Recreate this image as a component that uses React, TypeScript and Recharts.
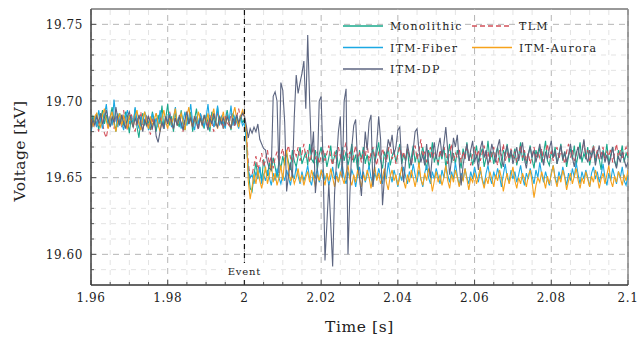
import React from 'react';
import { LineChart, Line, XAxis, YAxis, ReferenceLine, ReferenceArea, Legend } from 'recharts';

// sampling of the traces (s)
const T_START = 1.96;
const T_STEP = 0.0005;
const EVENT_T = 2;

// voltages in volts, one sample every 0.5 ms from 1.96 s
const monolithicV = [
  19684, 19690, 19686, 19692, 19681, 19688, 19694, 19685, 19691, 19683, 19689, 19696, 19687, 19680, 19692, 19686, 19690, 19684, 19693, 19688,
  19679, 19690, 19685, 19695, 19683, 19676, 19688, 19692, 19684, 19690, 19686, 19681, 19693, 19687, 19680, 19691, 19685, 19697, 19682, 19689,
  19698, 19684, 19690, 19680, 19692, 19687, 19683, 19694, 19686, 19681, 19690, 19685, 19693, 19680, 19688, 19695, 19684, 19690, 19686, 19682,
  19691, 19686, 19680, 19693, 19688, 19684, 19696, 19685, 19690, 19682, 19688, 19694, 19686, 19681, 19692, 19687, 19690, 19684, 19691, 19686,
  19688,
  19675, 19655, 19643, 19641, 19652, 19660, 19650, 19657, 19648, 19662, 19655, 19651, 19660, 19654, 19663, 19657, 19650, 19661, 19656, 19664,
  19658, 19666, 19660, 19655, 19668, 19661, 19657, 19664, 19670, 19659, 19663, 19667, 19658, 19672, 19662, 19660, 19668, 19655, 19665, 19670,
  19660, 19666, 19657, 19663, 19671, 19659, 19664, 19668, 19656, 19662, 19670, 19661, 19667, 19658, 19664, 19672, 19660, 19665, 19655, 19668,
  19662, 19670, 19659, 19665, 19657, 19663, 19669, 19660, 19666, 19673, 19661, 19656, 19667, 19662, 19670, 19658, 19664, 19668, 19660, 19666,
  19672, 19659, 19665, 19661, 19669, 19656, 19663, 19671, 19660, 19666, 19658, 19664, 19670, 19662, 19655, 19668, 19663, 19673, 19660, 19665,
  19658, 19667, 19662, 19670, 19657, 19664, 19672, 19660, 19666, 19659, 19668, 19663, 19656, 19669, 19662, 19673, 19661, 19666, 19658, 19664,
  19671, 19660, 19665, 19669, 19657, 19663, 19674, 19661, 19667, 19659, 19665, 19670, 19662, 19656, 19668, 19664, 19672, 19660, 19666, 19662,
  19669, 19658, 19664, 19673, 19661, 19667, 19659, 19665, 19671, 19662, 19656, 19668, 19663, 19670, 19660, 19666, 19674, 19661, 19658, 19667,
  19663, 19670, 19659, 19665, 19672, 19661, 19667, 19657, 19664, 19669, 19662, 19671, 19658, 19665, 19673, 19660, 19666, 19662, 19670, 19658,
  19665, 19671, 19660, 19667, 19662, 19655, 19668, 19663, 19672, 19659, 19665, 19670, 19661, 19657, 19668, 19664, 19671, 19660, 19666, 19663,
];

const tlmV = [
  19688, 19683, 19690, 19685, 19680, 19692, 19686, 19679, 19676, 19684, 19690, 19687, 19682, 19691, 19685, 19689, 19683, 19694, 19686, 19681,
  19688, 19692, 19684, 19680, 19689, 19686, 19693, 19682, 19687, 19691, 19684, 19678, 19688, 19685, 19692, 19683, 19689, 19686, 19681, 19690,
  19685, 19693, 19687, 19682, 19689, 19684, 19691, 19686, 19680, 19688, 19694, 19685, 19689, 19683, 19690, 19686, 19681, 19692, 19687, 19684,
  19689, 19683, 19691, 19686, 19680, 19688, 19693, 19685, 19689, 19682, 19690, 19686, 19684, 19692, 19687, 19683, 19690, 19695, 19688, 19692,
  19690,
  19680, 19660, 19650, 19652, 19658, 19664, 19655, 19660, 19666, 19657, 19662, 19668, 19659, 19664, 19656, 19663, 19667, 19660, 19665, 19669,
  19662, 19667, 19671, 19663, 19660, 19668, 19664, 19670, 19661, 19666, 19672, 19663, 19668, 19660, 19665, 19670, 19662, 19667, 19659, 19664,
  19669, 19661, 19666, 19671, 19663, 19658, 19667, 19662, 19670, 19664, 19660, 19668, 19673, 19663, 19667, 19660, 19665, 19671, 19662, 19666,
  19660, 19668, 19664, 19672, 19661, 19666, 19670, 19663, 19658, 19667, 19662, 19669, 19664, 19660, 19668, 19673, 19662, 19666, 19659, 19665,
  19670, 19663, 19667, 19661, 19669, 19664, 19658, 19666, 19671, 19662, 19667, 19675, 19663, 19668, 19660, 19665, 19670, 19662, 19667, 19664,
  19660, 19668, 19663, 19670, 19665, 19659, 19667, 19672, 19661, 19666, 19663, 19669, 19660, 19667, 19662, 19671, 19664, 19658, 19666, 19670,
  19663, 19668, 19661, 19666, 19671, 19662, 19667, 19660, 19665, 19670, 19663, 19658, 19668, 19664, 19672, 19661, 19666, 19662, 19669, 19663,
  19667, 19660, 19665, 19671, 19663, 19668, 19661, 19666, 19659, 19664, 19670, 19662, 19667, 19663, 19669, 19660, 19666, 19672, 19663, 19667,
  19661, 19666, 19670, 19662, 19668, 19664, 19659, 19667, 19672, 19663, 19668, 19661, 19665, 19670, 19662, 19667, 19674, 19663, 19668, 19660,
  19666, 19671, 19663, 19668, 19662, 19665, 19670, 19661, 19667, 19664, 19669, 19660, 19666, 19672, 19663, 19668, 19662, 19667, 19670, 19664,
];

const fiberV = [
  19680, 19686, 19690, 19683, 19694, 19687, 19682, 19691, 19698, 19685, 19690, 19684, 19701, 19689, 19683, 19692, 19686, 19681, 19690, 19694,
  19685, 19689, 19683, 19696, 19687, 19682, 19690, 19685, 19693, 19688, 19681, 19686, 19692, 19684, 19689, 19683, 19694, 19687, 19682, 19690,
  19686, 19692, 19683, 19689, 19696, 19685, 19690, 19682, 19687, 19693, 19684, 19689, 19698, 19686, 19681, 19690, 19685, 19692, 19688, 19683,
  19689, 19698, 19685, 19690, 19683, 19688, 19697, 19684, 19690, 19686, 19682, 19692, 19687, 19697, 19684, 19690, 19686, 19682, 19689, 19684,
  19686,
  19672, 19655, 19650, 19652, 19646, 19654, 19649, 19657, 19646, 19652, 19648, 19655, 19650, 19645, 19653, 19648, 19656, 19650, 19646, 19652,
  19648, 19655, 19650, 19645, 19653, 19649, 19657, 19651, 19646, 19654, 19648, 19652, 19658, 19649, 19645, 19653, 19650, 19656, 19647, 19652,
  19655, 19648, 19653, 19645, 19650, 19657, 19649, 19654, 19647, 19652, 19659, 19650, 19646, 19654, 19649, 19655, 19651, 19644, 19652, 19657,
  19649, 19654, 19647, 19652, 19658, 19650, 19645, 19653, 19649, 19656, 19651, 19646, 19654, 19649, 19660, 19652, 19647, 19655, 19650, 19644,
  19653, 19648, 19657, 19651, 19646, 19654, 19650, 19659, 19652, 19647, 19655, 19649, 19644, 19653, 19658, 19650, 19646, 19654, 19649, 19656,
  19651, 19646, 19655, 19650, 19658, 19652, 19647, 19654, 19649, 19660, 19651, 19645, 19653, 19648, 19656, 19650, 19646, 19654, 19649, 19657,
  19651, 19647, 19655, 19649, 19645, 19653, 19658, 19650, 19646, 19654, 19649, 19656, 19651, 19644, 19652, 19659, 19650, 19647, 19655, 19649,
  19654, 19647, 19652, 19658, 19650, 19645, 19653, 19649, 19656, 19651, 19646, 19655, 19650, 19660, 19652, 19647, 19654, 19649, 19645, 19653,
  19658, 19650, 19646, 19654, 19649, 19657, 19651, 19645, 19653, 19648, 19656, 19650, 19660, 19652, 19646, 19654, 19649, 19655, 19650, 19644,
  19653, 19657, 19649, 19654, 19647, 19652, 19659, 19650, 19645, 19653, 19648, 19656, 19651, 19646, 19654, 19650, 19657, 19648, 19645, 19652,
];

const auroraV = [
  19688, 19684, 19690, 19692, 19686, 19683, 19691, 19695, 19687, 19682, 19689, 19693, 19685, 19680, 19688, 19692, 19684, 19690, 19686, 19682,
  19691, 19687, 19683, 19690, 19694, 19685, 19681, 19689, 19693, 19686, 19682, 19690, 19684, 19688, 19692, 19685, 19680, 19689, 19694, 19686,
  19682, 19690, 19685, 19689, 19695, 19684, 19688, 19692, 19686, 19681, 19690, 19696, 19687, 19683, 19690, 19685, 19693, 19688, 19684, 19690,
  19686, 19692, 19683, 19689, 19695, 19686, 19682, 19690, 19687, 19693, 19684, 19690, 19686, 19682, 19691, 19696, 19688, 19683, 19690, 19694,
  19690,
  19680, 19648, 19636, 19644, 19652, 19646, 19655, 19648, 19643, 19650, 19657, 19646, 19652, 19660, 19647, 19653, 19645, 19650, 19658, 19648,
  19662, 19668, 19655, 19648, 19652, 19646, 19650, 19656, 19647, 19652, 19645, 19650, 19654, 19647, 19655, 19650, 19644, 19652, 19648, 19655,
  19650, 19645, 19653, 19648, 19656, 19650, 19644, 19651, 19647, 19654, 19650, 19646, 19653, 19658, 19649, 19645, 19652, 19647, 19655, 19650,
  19644, 19652, 19648, 19655, 19650, 19643, 19651, 19657, 19648, 19653, 19646, 19650, 19656, 19647, 19642, 19651, 19655, 19648, 19652, 19645,
  19650, 19657, 19648, 19643, 19652, 19647, 19655, 19650, 19644, 19651, 19660, 19649, 19645, 19653, 19648, 19656, 19650, 19641, 19648, 19654,
  19647, 19652, 19645, 19650, 19658, 19648, 19643, 19652, 19647, 19655, 19650, 19644, 19651, 19648, 19656, 19649, 19642, 19650, 19647, 19653,
  19646, 19651, 19657, 19648, 19643, 19650, 19646, 19654, 19649, 19644, 19652, 19648, 19655, 19650, 19641, 19648, 19653, 19646, 19651, 19657,
  19648, 19643, 19650, 19646, 19653, 19649, 19644, 19651, 19655, 19647, 19637, 19645, 19650, 19647, 19654, 19649, 19643, 19651, 19646, 19652,
  19658, 19649, 19644, 19651, 19647, 19655, 19650, 19642, 19648, 19653, 19646, 19651, 19656, 19648, 19643, 19650, 19646, 19654, 19649, 19644,
  19651, 19647, 19655, 19650, 19643, 19649, 19653, 19646, 19652, 19658, 19648, 19644, 19651, 19647, 19654, 19650, 19645, 19652, 19648, 19655,
];

const dpV = [
  19682, 19688, 19684, 19690, 19686, 19692, 19685, 19689, 19694, 19688, 19683, 19690, 19686, 19696, 19688, 19684, 19691, 19686, 19682, 19690,
  19693, 19687, 19683, 19689, 19685, 19691, 19686, 19680, 19688, 19684, 19690, 19686, 19682, 19688, 19677, 19673, 19680, 19686, 19683, 19690,
  19685, 19691, 19686, 19682, 19689, 19684, 19690, 19686, 19681, 19688, 19693, 19685, 19689, 19683, 19690, 19686, 19682, 19689, 19684, 19691,
  19686, 19681, 19689, 19685, 19692, 19686, 19683, 19690, 19685, 19689, 19684, 19690, 19686, 19682, 19689, 19685, 19691, 19686, 19689, 19692,
  19690,
  19684, 19676, 19682, 19679, 19683, 19680, 19685, 19675, 19672, 19669, 19668, 19660, 19656, 19655, 19703, 19706, 19700, 19653, 19712, 19707,
  19686, 19641, 19652, 19660, 19650, 19690, 19717, 19705, 19712, 19718, 19726, 19695, 19743, 19700, 19665, 19680, 19640, 19655, 19700, 19703,
  19660, 19596, 19620, 19646, 19620, 19592, 19640, 19660, 19680, 19690, 19650, 19700, 19708, 19600, 19640, 19670, 19684, 19688, 19660, 19650,
  19638, 19660, 19680, 19668, 19686, 19691, 19644, 19660, 19672, 19690, 19675, 19632, 19650, 19665, 19675, 19670, 19678, 19665, 19670, 19681,
  19683, 19660, 19647, 19660, 19672, 19665, 19658, 19668, 19680, 19682, 19668, 19660, 19665, 19658, 19672, 19660, 19650, 19665, 19673, 19662,
  19670, 19676, 19664, 19672, 19683, 19668, 19652, 19662, 19676, 19670, 19678, 19660, 19645, 19658, 19666, 19672, 19661, 19668, 19674, 19660,
  19665, 19655, 19669, 19674, 19663, 19668, 19658, 19664, 19672, 19666, 19660, 19670, 19675, 19662, 19657, 19666, 19671, 19663, 19668, 19659,
  19664, 19670, 19661, 19667, 19673, 19662, 19656, 19665, 19670, 19663, 19668, 19660, 19666, 19672, 19664, 19658, 19667, 19662, 19669, 19674,
  19663, 19668, 19659, 19665, 19671, 19662, 19667, 19660, 19665, 19672, 19663, 19657, 19666, 19670, 19662, 19667, 19675, 19664, 19660, 19668,
  19663, 19669, 19658, 19665, 19671, 19662, 19667, 19660, 19665, 19658, 19663, 19670, 19661, 19656, 19664, 19660, 19667, 19662, 19657, 19660,
];

const series = [
  { key: 'mono', name: 'Monolithic', values: monolithicV, color: '#19a88b', dash: undefined as string | undefined },
  { key: 'tlm', name: 'TLM', values: tlmV, color: '#d2505a', dash: '5 3' },
  { key: 'fiber', name: 'ITM-Fiber', values: fiberV, color: '#1ba8e3', dash: undefined },
  { key: 'aurora', name: 'ITM-Aurora', values: auroraV, color: '#f7a21b', dash: undefined },
  { key: 'dp', name: 'ITM-DP', values: dpV, color: '#5c6580', dash: undefined },
];

const xMajorTicks = [1.96, 1.98, 2, 2.02, 2.04, 2.06, 2.08, 2.1];
const yMajorTicks = [19.6, 19.65, 19.7, 19.75];
const xDomain = [1.96, 2.1];
const yDomain = [19.58, 19.76];

// minor ticks / minor grid: every 5 ms and every 10 V
const xTicks = Array.from({ length: 29 }, (_, k) => +(1.96 + k * 0.005).toFixed(3));
const yTicks = Array.from({ length: 17 }, (_, k) => +(19.59 + k * 0.01).toFixed(2));

const data = monolithicV.map((_, i) => {
  const row: Record<string, number> = { t: +(T_START + i * T_STEP).toFixed(4) };
  series.forEach((s) => {
    row[s.key] = s.values[i] / 1000;
  });
  return row;
});

const isMajor = (v: number, majors: number[]) => majors.some((m) => Math.abs(m - v) < 1e-6);
const FONT = "'DejaVu Serif', 'Liberation Serif', serif";
const txt = (size: number, spacing: number) => ({ fontFamily: FONT, fontSize: size, letterSpacing: spacing, fill: '#222' });

const XTick = ({ x, y, payload }: any) => {
  const major = isMajor(payload.value, xMajorTicks);
  return (
    <g>
      <line x1={x} x2={x} y1={y} y2={y - (major ? 5 : 3)} stroke="#333" strokeWidth={0.8} />
      {major && (
        <text x={x} y={y + 17} textAnchor="middle" style={txt(12, 0.6)}>
          {String(+payload.value.toFixed(2))}
        </text>
      )}
    </g>
  );
};

const YTick = ({ x, y, payload }: any) => {
  const major = isMajor(payload.value, yMajorTicks);
  return (
    <g>
      <line x1={x} x2={x + (major ? 5 : 3)} y1={y} y2={y} stroke="#333" strokeWidth={0.8} />
      {major && (
        <text x={x - 8} y={y + 4.5} textAnchor="end" style={txt(12, 0.6)}>
          {payload.value.toFixed(2)}
        </text>
      )}
    </g>
  );
};

const renderLegend = () => (
  <svg width={300} height={66}>
    {series.map((s, k) => {
      const x0 = (k % 2) * 129;
      const y0 = Math.floor(k / 2) * 21.5 + 8;
      return (
        <g key={s.key}>
          <line x1={x0} x2={x0 + 40} y1={y0} y2={y0} stroke={s.color} strokeWidth={1.4} strokeDasharray={s.dash} />
          <text x={x0 + 47} y={y0 + 4} style={txt(11, 1.3)}>
            {s.name}
          </text>
        </g>
      );
    })}
  </svg>
);

const EventLabel = ({ viewBox }: any) => {
  const bottom = viewBox.y + viewBox.height;
  return (
    <g>
      <rect x={viewBox.x - 22} y={bottom - 22} width={44} height={17} fill="#fff" />
      <text x={viewBox.x} y={bottom - 10} textAnchor="middle" style={txt(10, 0.8)}>
        Event
      </text>
    </g>
  );
};

const XLabel = ({ viewBox }: any) => (
  <text x={viewBox.x + viewBox.width / 2} y={viewBox.y + 47} textAnchor="middle" style={txt(15.5, 0.6)}>
    Time [s]
  </text>
);

const YLabel = ({ viewBox }: any) => {
  const cx = viewBox.x + 20;
  const cy = viewBox.y + viewBox.height / 2 + 4;
  return (
    <text x={cx} y={cy} transform={`rotate(-90 ${cx} ${cy})`} textAnchor="middle" dominantBaseline="central" style={txt(15.5, 0.4)}>
      Voltage [kV]
    </text>
  );
};

export default function App() {
  return (
    <div style={{ position: 'absolute', left: 0, top: 0, width: 638, height: 340, background: '#fff' }}>
      <LineChart width={638} height={340} data={data} margin={{ top: 9, right: 10, bottom: 0, left: 0 }}>
        {xTicks.map((v) => (
          <ReferenceLine
            key={'gx' + v}
            x={v}
            stroke={isMajor(v, xMajorTicks) ? '#b5b5b5' : '#e3e3e3'}
            strokeDasharray={isMajor(v, xMajorTicks) ? '6 5' : '5 5'}
            strokeWidth={1}
          />
        ))}
        {yTicks.map((v) => (
          <ReferenceLine
            key={'gy' + v}
            y={v}
            stroke={isMajor(v, yMajorTicks) ? '#b5b5b5' : '#e3e3e3'}
            strokeDasharray={isMajor(v, yMajorTicks) ? '6 5' : '5 5'}
            strokeWidth={1}
          />
        ))}
        <XAxis
          dataKey="t"
          type="number"
          domain={xDomain}
          ticks={xTicks}
          interval={0}
          tickSize={0}
          tickMargin={0}
          tickLine={false}
          tick={<XTick />}
          height={55}
          axisLine={{ stroke: '#333' }}
          allowDataOverflow
          label={{ content: XLabel }}
        />
        <YAxis
          type="number"
          domain={yDomain}
          ticks={yTicks}
          interval={0}
          tickSize={0}
          tickMargin={0}
          tickLine={false}
          tick={<YTick />}
          width={91}
          axisLine={{ stroke: '#333' }}
          allowDataOverflow
          label={{ content: YLabel }}
        />
        {series.map((s) => (
          <Line
            key={s.key}
            dataKey={s.key}
            name={s.name}
            stroke={s.color}
            strokeWidth={1.1}
            strokeDasharray={s.dash}
            dot={false}
            activeDot={false}
            isAnimationActive={false}
          />
        ))}
        <ReferenceLine x={EVENT_T} stroke="#111" strokeWidth={1.2} strokeDasharray="5 4" label={<EventLabel />} />
        <ReferenceArea x1={xDomain[0]} x2={xDomain[1]} y1={yDomain[0]} y2={yDomain[1]} fill="none" fillOpacity={0} stroke="#333" strokeWidth={1} />
        <Legend
          layout="vertical"
          align="center"
          verticalAlign="middle"
          content={renderLegend}
          wrapperStyle={{ position: 'absolute', left: 343, top: 18, width: 300, height: 66 }}
        />
      </LineChart>
    </div>
  );
}
